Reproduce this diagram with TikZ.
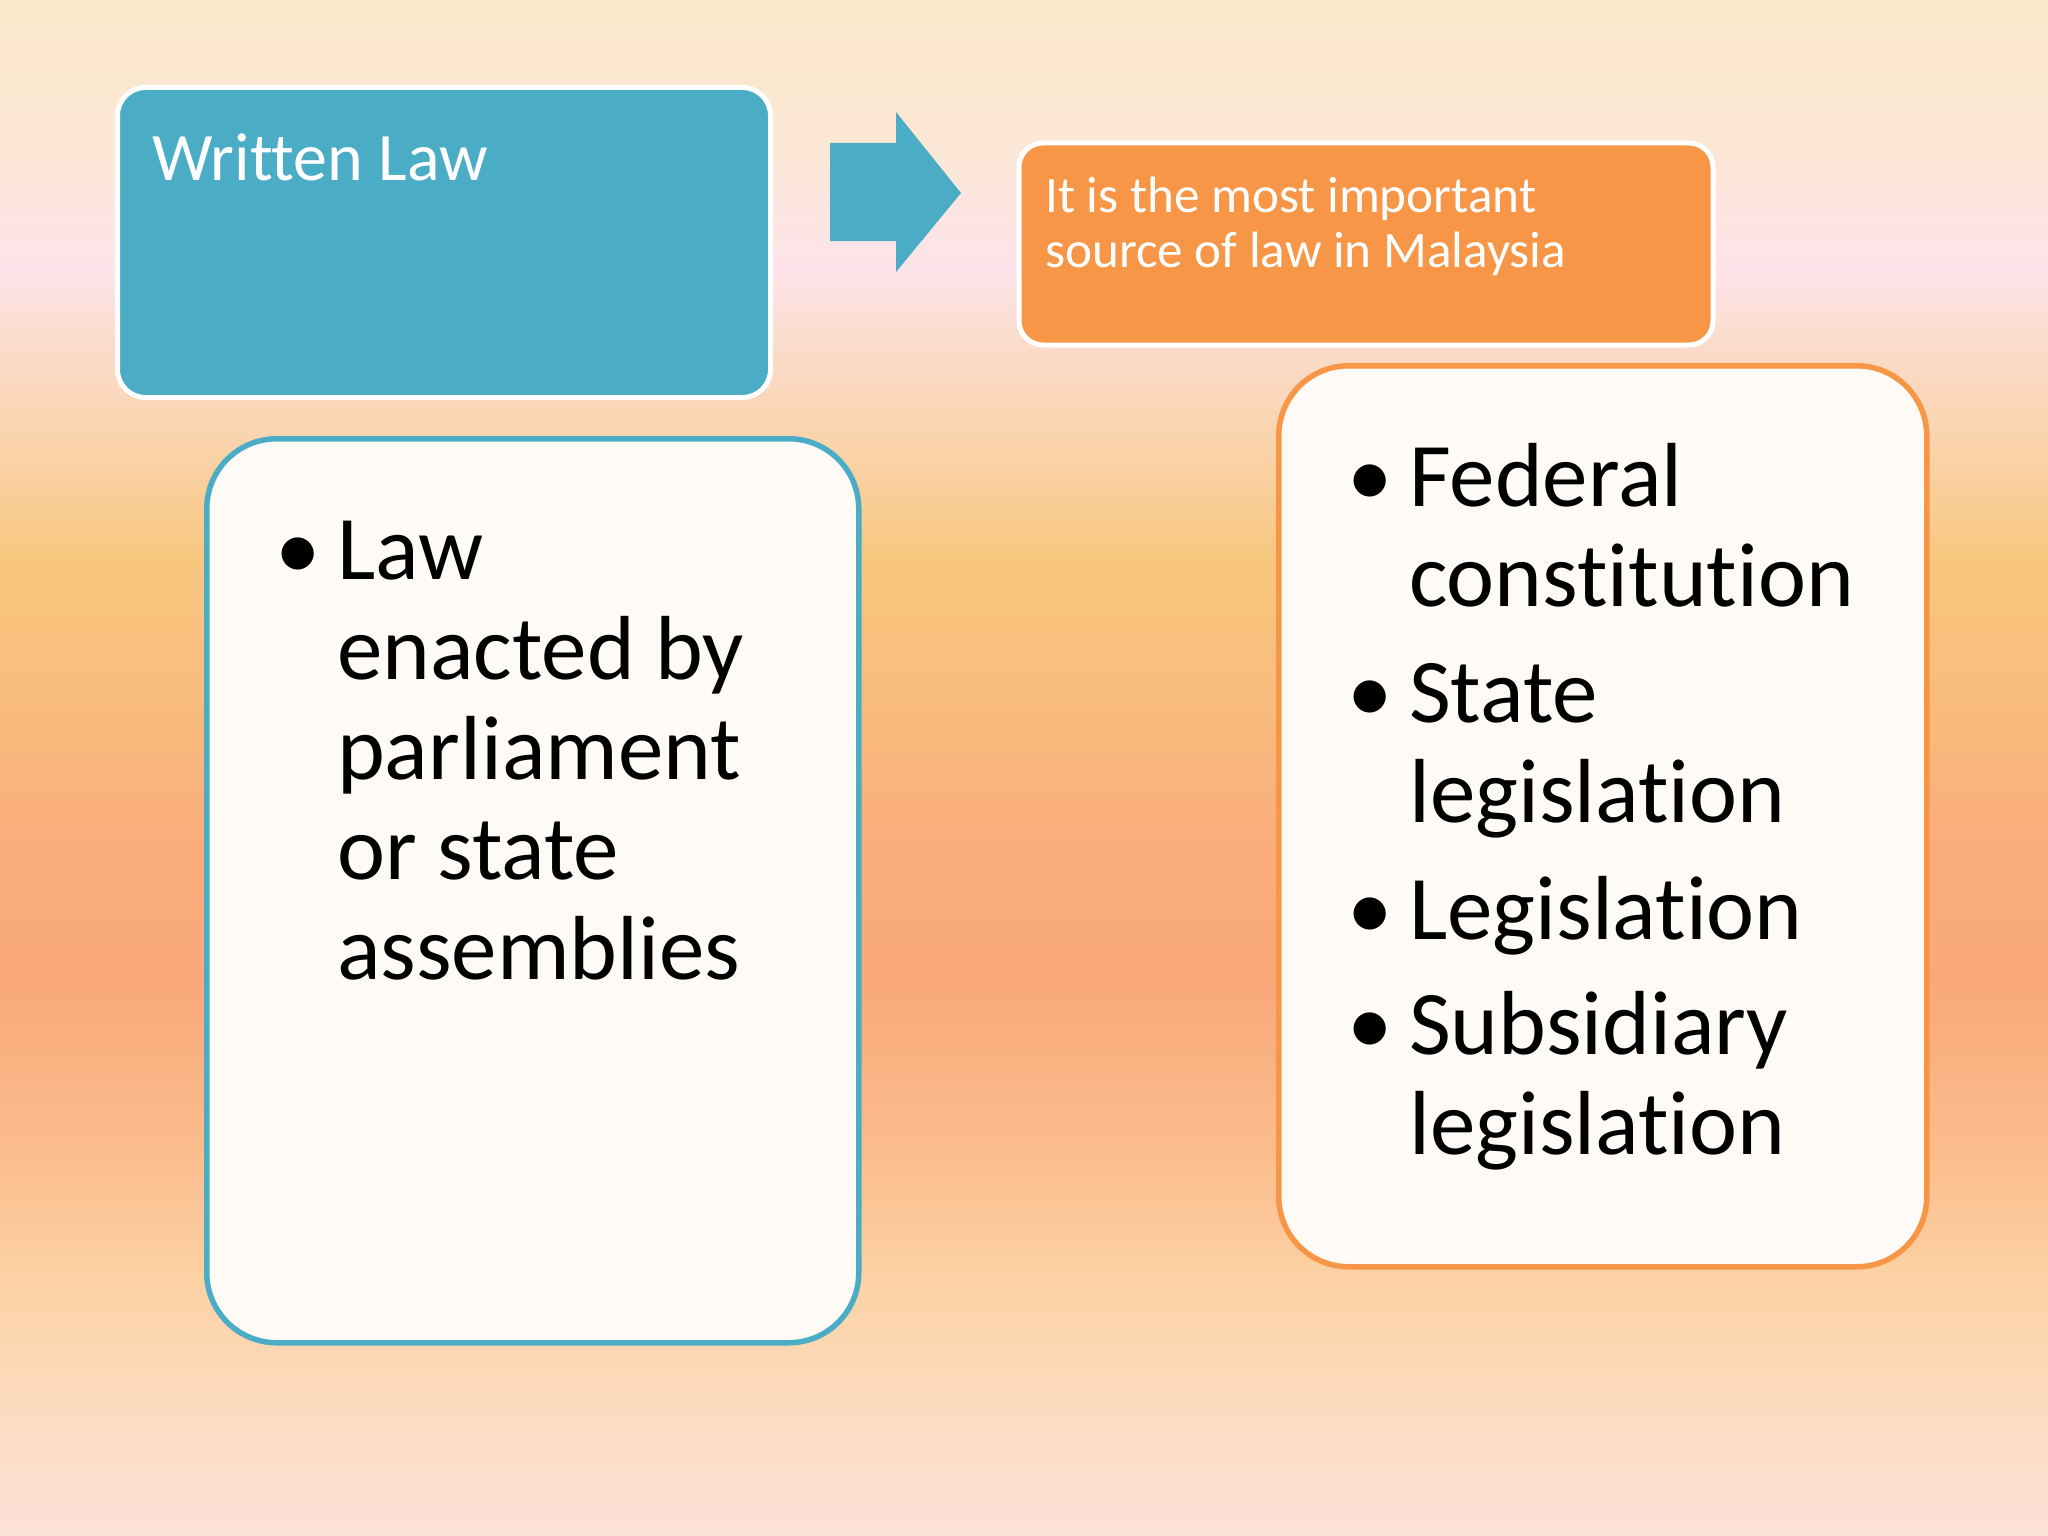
\documentclass[tikz,border=0pt]{standalone}
\usepackage{fontspec}
\setmainfont[Ligatures={NoCommon}]{Carlito}
\definecolor{bgA}{HTML}{FCE1D8}
\definecolor{bgB}{HTML}{FDDBBE}
\definecolor{bgC}{HTML}{FCD2A4}
\definecolor{bgD}{HTML}{FBBC8C}
\definecolor{bgE}{HTML}{F9A87A}
\definecolor{bgF}{HTML}{FAAE7B}
\definecolor{bgG}{HTML}{F8BC7C}
\definecolor{bgH}{HTML}{F8C77E}
\definecolor{bgI}{HTML}{FAD3AA}
\definecolor{bgJ}{HTML}{FBDCCB}
\definecolor{bgK}{HTML}{FDE3EA}
\definecolor{bgL}{HTML}{FCE7D6}
\definecolor{bgM}{HTML}{FAE9C9}
\definecolor{accblue}{HTML}{4BACC6}
\definecolor{accorange}{HTML}{F79646}
\definecolor{paper}{HTML}{FEFAF6}
\pgfdeclareverticalshading{bgshade}{100bp}{color(0bp)=(bgA); color(25bp)=(bgA); color(29.4bp)=(bgB); color(33.3bp)=(bgC); color(37.6bp)=(bgD); color(43.1bp)=(bgE); color(48bp)=(bgF); color(52.2bp)=(bgG); color(56.8bp)=(bgH); color(60.4bp)=(bgI); color(63.9bp)=(bgJ); color(66.2bp)=(bgK); color(70.1bp)=(bgL); color(75bp)=(bgM); color(100bp)=(bgM)}
\newcommand\bulletmark{\leavevmode\llap{\makebox[62pt][l]{•}}}
\tikzset{
  headbox/.style={draw=white, line width=5pt, rounded corners=28pt, anchor=north west, inner sep=0pt},
  listbox/.style={fill=paper, line width=5.5pt, rounded corners=70pt, anchor=north west, inner sep=0pt},
  listtext/.style={anchor=base west, inner sep=0pt, font=\fontsize{91}{100}\selectfont, text=black},
}
\begin{document}
\begin{tikzpicture}[x=1pt,y=-1pt]
\useasboundingbox (0,0) rectangle (2048,1536);
\shade[shading=bgshade] (0,0) rectangle (2048,1536);
% boxes
\node[headbox, fill=accblue, minimum width=653pt, minimum height=310pt] (wlbox) at (115,85) {};
\node[headbox, fill=accorange, minimum width=694pt, minimum height=202pt, rounded corners=24pt] (srcbox) at (1016.5,140.5) {};
\node[listbox, draw=accblue, minimum width=652pt, minimum height=904pt] (leftbox) at (204,436) {};
\node[listbox, draw=accorange, minimum width=648pt, minimum height=901pt] (rightbox) at (1276,363) {};
% block arrow
\fill[accblue] (830,143) -- (896,143) -- (896,112) -- (961,193) -- (896,272) -- (896,241) -- (830,241) -- cycle;
% texts
\node[anchor=base west, inner sep=0pt, text=white, font=\fontsize{68}{82}\selectfont] (wltext) at (152,180) {Written Law};
\node[anchor=base west, inner sep=0pt, text=white, font=\fontsize{51.2}{55}\selectfont] (srctext) at (1045,212)
  {\parbox[t]{640pt}{\raggedright It is the most important\\source of law in Malaysia}};
\node[listtext] (lefttext) at (337,579)
  {\parbox[t]{500pt}{\raggedright\bulletmark Law\\enacted by\\parliament\\or state\\assemblies}};
\node[listtext] (righttext) at (1409,506)
  {\parbox[t]{500pt}{\raggedright\bulletmark Federal\\constitution\\[16pt]\bulletmark State\\legislation\\[17pt]\bulletmark Legislation\\[15pt]\bulletmark Subsidiary\\legislation}};
\end{tikzpicture}
\end{document}
